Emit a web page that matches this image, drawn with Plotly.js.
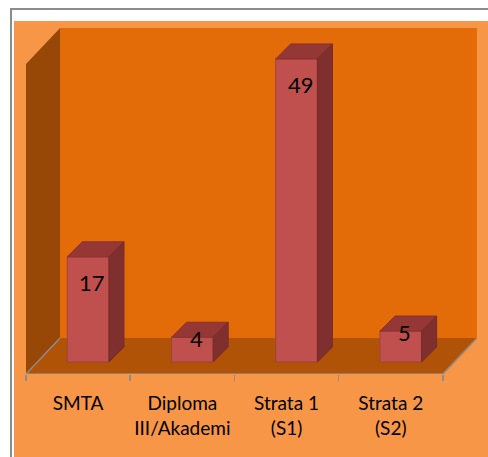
<!DOCTYPE html>
<html>
<head>
<meta charset="utf-8">
<script src="https://cdn.plot.ly/plotly-3.0.1.min.js"></script>
<style>
  html, body { margin: 0; padding: 0; background: #fff; }
  #chart { width: 488px; height: 457px; }
</style>
</head>
<body>
<div id="chart"></div>
<script>
const categories = ['SMTA', 'Diploma<br>III/Akademi', 'Strata 1<br>(S1)', 'Strata 2<br>(S2)'];
const values = [17, 4, 49, 5];
const labels = ['17', '4', '49', '5'];

// fake 3d: offsets (data units) of the bar depth and of the floor/walls
const barHalf = 0.2, barDx = 0.144, barDy = 2.43;
const frontDx = -0.096, frontDy = -1.94;
const backDx = 0.231, backDy = 3.88;
const wallTop = 54.0;

const W = 488, H = 457, ml = 26, mr = 10, mt = 28, mb = 83;
const pw = W - ml - mr, ph = H - mt - mb;
const px = x => (x - ml) / pw;
const py = y => (H - mb - y) / ph;

const idx = categories.map((c, i) => i);
const traces = [];

traces.push({
  type: 'bar', x: idx, y: values, width: 2 * barHalf,
  marker: { color: '#C0504D', line: { color: '#A3403D', width: 1 } },
  hoverinfo: 'skip', showlegend: false
});

values.forEach((v, i) => {
  const l = i - barHalf, r = i + barHalf;
  // top face
  traces.push({
    type: 'scatter', mode: 'lines', fill: 'toself', fillcolor: '#953735',
    x: [l, r, r + barDx, l + barDx, l], y: [v, v, v + barDy, v + barDy, v],
    line: { color: '#8A3230', width: 1 }, hoverinfo: 'skip', showlegend: false
  });
  // side face
  traces.push({
    type: 'scatter', mode: 'lines', fill: 'toself', fillcolor: '#7F302E',
    x: [r, r + barDx, r + barDx, r, r], y: [0, barDy, v + barDy, v, 0],
    line: { color: '#762C2A', width: 1 }, hoverinfo: 'skip', showlegend: false
  });
});

const x0 = -0.5 + frontDx, x1 = categories.length - 0.5 + frontDx;
const bx0 = -0.5 + backDx, bx1 = categories.length - 0.5 + backDx;

const shapes = [
  // chart area + frame
  { type: 'rect', xref: 'paper', yref: 'paper', x0: px(14), x1: px(490), y0: py(21), y1: py(460),
    fillcolor: '#F79646', line: { width: 0 }, layer: 'below' },
  { type: 'line', xref: 'paper', yref: 'paper', x0: px(10), x1: px(490), y0: py(9), y1: py(9),
    line: { color: '#8C8C8C', width: 2 }, layer: 'below' },
  { type: 'line', xref: 'paper', yref: 'paper', x0: px(11), x1: px(11), y0: py(8), y1: py(460),
    line: { color: '#8C8C8C', width: 2 }, layer: 'below' },
  // back wall
  { type: 'rect', x0: bx0, x1: bx1, y0: backDy, y1: wallTop,
    fillcolor: '#E36C09', line: { width: 0 }, layer: 'below' },
  // floor
  { type: 'path', path: `M${x0},${frontDy} L${x1},${frontDy} L${bx1},${backDy} L${bx0},${backDy} Z`,
    fillcolor: '#B05306', line: { width: 0 }, layer: 'below' },
  // left wall
  { type: 'path', path: `M${x0},${frontDy} L${bx0},${backDy} L${bx0},${wallTop} L${x0},${wallTop - (backDy - frontDy)} Z`,
    fillcolor: '#974806', line: { width: 0 }, layer: 'below' },
  // floor edges
  { type: 'path', path: `M${bx0},${backDy} L${x0},${frontDy} L${x1},${frontDy} L${bx1},${backDy}`,
    line: { color: '#8C8C8C', width: 1.5 }, layer: 'below' }
];

const annotations = values.map((v, i) => ({
  x: i + 0.04, y: v, text: labels[i], showarrow: false,
  yanchor: 'middle', yshift: v > 10 ? -26 : -1,
  font: { family: 'Lato, sans-serif', size: 22, color: '#000' }
}));

const layout = {
  width: W, height: H,
  margin: { l: ml, r: mr, t: mt, b: mb },
  paper_bgcolor: '#fff', plot_bgcolor: 'rgba(0,0,0,0)',
  showlegend: false,
  xaxis: {
    range: [x0, bx1 + 0.01], showgrid: false, zeroline: false, showline: false,
    tickmode: 'array', tickvals: idx.map(i => i + frontDx), ticktext: categories,
    ticks: '', ticklabelstandoff: 16,
    tickfont: { family: 'Lato, sans-serif', size: 19, color: '#000' },
    minor: { tickmode: 'array', tickvals: idx.concat([categories.length]).map(i => i - 0.5 + frontDx),
      ticks: 'outside', ticklen: 6, tickcolor: '#8C8C8C', tickwidth: 1.5, showgrid: false }
  },
  yaxis: {
    range: [frontDy, wallTop], visible: false
  },
  shapes: shapes,
  annotations: annotations
};

Plotly.newPlot('chart', traces, layout, { displayModeBar: false, staticPlot: true });
</script>
</body>
</html>
